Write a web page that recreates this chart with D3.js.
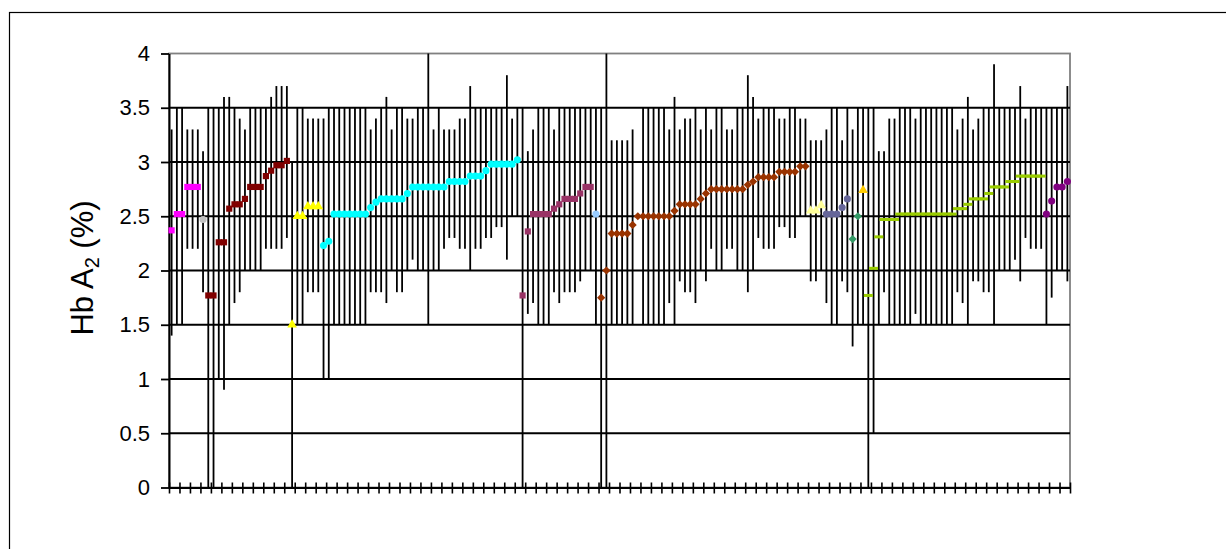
<!DOCTYPE html>
<html>
<head>
<meta charset="utf-8">
<script src="https://cdn.jsdelivr.net/npm/d3@7"></script>
<style>
  html, body { margin: 0; padding: 0; background: #fff; }
  svg { display: block; font-family: "Liberation Sans", Arial, sans-serif; }
</style>
</head>
<body>
<svg id="chart" width="1226" height="549"></svg>
<script>
// Hb A2 (%) per sample, one array per sample group (in plotting order).
const series01 = [2.37, 2.52, 2.52, 2.77, 2.77, 2.77];
const series02 = [2.47];
const series03 = [1.77, 1.77, 2.26, 2.26, 2.57, 2.61, 2.61, 2.66, 2.77, 2.77, 2.77, 2.87, 2.92, 2.97, 2.97, 3.01];
const series04 = [1.5, 2.5, 2.5, 2.59, 2.59, 2.59];
const series05 = [2.23, 2.27, 2.52, 2.52, 2.52, 2.52, 2.52, 2.52, 2.52, 2.58, 2.63,
                  2.66, 2.66, 2.66, 2.66, 2.66, 2.71, 2.77, 2.77, 2.77, 2.77, 2.77, 2.77, 2.77,
                  2.82, 2.82, 2.82, 2.82, 2.87, 2.87, 2.87, 2.92, 2.98, 2.98, 2.98, 2.98, 2.98, 3.02];
const series06 = [1.77, 2.36, 2.52, 2.52, 2.52, 2.52, 2.57, 2.61, 2.66, 2.66, 2.66, 2.71, 2.77, 2.77];
const series07 = [2.52];
const series08 = [1.75, 2.0, 2.34, 2.34, 2.34, 2.34, 2.42, 2.5, 2.5, 2.5, 2.5, 2.5, 2.5, 2.5,
                  2.55, 2.61, 2.61, 2.61, 2.61, 2.66, 2.71, 2.75, 2.75, 2.75, 2.75, 2.75, 2.75, 2.75,
                  2.79, 2.82, 2.86, 2.86, 2.86, 2.86, 2.91, 2.91, 2.91, 2.91, 2.96, 2.96];
const series09 = [2.55, 2.55, 2.6];
const series10 = [2.52, 2.52, 2.52, 2.58, 2.66];
const series11 = [2.29, 2.5];
const series12 = [2.74];
const series13 = [1.77, 2.02, 2.31, 2.47, 2.47, 2.47,
                  2.52, 2.52, 2.52, 2.52, 2.52, 2.52, 2.52, 2.52, 2.52, 2.52, 2.52,
                  2.57, 2.57, 2.61, 2.66, 2.66, 2.66, 2.71, 2.77, 2.77, 2.77, 2.82, 2.82,
                  2.87, 2.87, 2.87, 2.87, 2.87];
const series14 = [2.52, 2.64, 2.77, 2.77, 2.82];

// Reference range (upper / lower limit) attached to each sample, same order.
const rangeHigh = [
  3.3, 3.5, 3.5, 3.3, 3.3, 3.3, 3.1, 3.5, 3.5, 3.5,
  3.6, 3.6, 3.5, 3.4, 3.3, 3.5, 3.5, 3.5, 3.5, 3.6,
  3.7, 3.7, 3.7, 3.0, 3.5, 3.5, 3.4, 3.4, 3.4, 3.4,
  3.5, 3.5, 3.5, 3.5, 3.5, 3.5, 3.5, 3.5, 3.3, 3.4,
  3.5, 3.6, 3.3, 3.5, 3.5, 3.4, 3.4, 3.5, 3.5, 4.0,
  3.3, 3.5, 3.3, 3.3, 3.3, 3.4, 3.4, 3.7, 3.5, 3.5,
  3.5, 3.5, 3.5, 3.5, 3.8, 3.4, 3.5, 3.5, 3.1, 3.3,
  3.5, 3.5, 3.5, 3.3, 3.5, 3.5, 3.5, 3.5, 3.5, 3.5,
  3.5, 3.5, 3.5, 4.0, 3.2, 3.2, 3.2, 3.2, 3.3, null,
  3.5, 3.5, 3.5, 3.5, 3.5, 3.3, 3.6, 3.3, 3.4, 3.4,
  3.5, 3.3, 3.5, 3.3, 3.5, 3.5, 3.3, 3.3, 3.5, 3.5,
  3.8, 3.6, 3.4, 3.5, 3.5, 3.5, 3.4, 3.4, 3.5, 3.5,
  3.4, 3.4, 3.2, 3.2, 3.2, 3.3, 3.5, 3.5, 3.2, 3.5,
  3.3, 3.5, 3.5, 3.5, 3.5, 3.1, 3.1, 3.4, 3.4, 3.5,
  3.5, 3.5, 3.4, 3.5, 3.5, 3.5, 3.5, 3.5, 3.5, 3.5,
  3.3, 3.4, 3.6, 3.3, 3.4, 3.5, 3.5, 3.9, 3.5, 3.5,
  3.5, 3.5, 3.7, 3.4, 3.5, 3.5, 3.5, 3.5, 3.5, 3.5,
  3.5, 3.7
];
const rangeLow = [
  1.4, 1.5, 1.5, 2.2, 2.2, 2.2, 1.8, 0, 0, 1.0,
  0.9, 1.5, 1.7, 1.8, 2.0, 2.0, 2.0, 2.0, 2.2, 2.2,
  2.2, 2.2, 2.3, 0, 1.5, 1.5, 1.8, 1.8, 1.8, 1.0,
  1.0, 1.5, 1.5, 1.5, 1.5, 1.5, 1.5, 1.5, 1.8, 1.8,
  1.8, 1.7, 2.0, 1.8, 1.8, 2.0, 2.1, 2.0, 2.0, 1.5,
  2.0, 2.0, 2.2, 2.3, 2.3, 2.2, 2.2, 2.0, 2.2, 2.2,
  2.3, 2.3, 2.4, 2.4, 2.1, 2.5, 2.5, 0, 1.6, 1.7,
  1.5, 1.5, 1.5, 1.8, 1.7, 1.8, 1.8, 1.8, 1.9, 2.0,
  2.0, 1.5, 0, 0, 1.5, 1.5, 1.5, 1.5, 1.5, null,
  1.5, 1.5, 1.5, 1.5, 1.5, 1.7, 1.5, 1.9, 1.8, 1.8,
  1.7, 2.0, 1.9, 2.2, 2.0, 2.0, 2.2, 2.2, 2.0, 2.0,
  1.8, 2.0, 2.3, 2.2, 2.2, 2.2, 2.4, 2.4, 2.3, 2.3,
  2.5, 2.5, 1.9, 1.9, 2.0, 1.7, 1.5, 1.5, 1.9, 1.8,
  1.3, 1.5, 1.5, 0, 0.5, 1.5, 1.8, 1.5, 1.5, 1.5,
  1.5, 1.5, 1.6, 1.5, 1.5, 1.5, 1.5, 1.5, 1.5, 1.5,
  1.8, 1.7, 1.5, 1.9, 1.9, 1.8, 1.8, 1.5, 2.0, 2.0,
  2.0, 2.1, 1.9, 2.3, 2.2, 2.2, 2.2, 1.5, 1.75, 2.0,
  2.0, 1.9
];

// Value-axis tick labels.
const yTickValues = [0, 0.5, 1, 1.5, 2, 2.5, 3, 3.5, 4];

// Marker look for each group.
const markerStyle = {
  series01: { color: "#FF00FF", shape: "square" },
  series02: { color: "#C0C0C0", shape: "circle" },
  series03: { color: "#800000", shape: "square" },
  series04: { color: "#FFFF00", shape: "triangle" },
  series05: { color: "#00FFFF", shape: "circle" },
  series06: { color: "#993366", shape: "square" },
  series07: { color: "#99CCFF", shape: "circle" },
  series08: { color: "#993300", shape: "diamond" },
  series09: { color: "#FFFF99", shape: "triangle" },
  series10: { color: "#666699", shape: "circle" },
  series11: { color: "#339966", shape: "diamond" },
  series12: { color: "#FFCC00", shape: "triangle" },
  series13: { color: "#99CC00", shape: "dash" },
  series14: { color: "#800080", shape: "circle" }
};

const groups = [
  ["series01", series01], ["series02", series02], ["series03", series03], ["series04", series04],
  ["series05", series05], ["series06", series06], ["series07", series07], ["series08", series08],
  ["series09", series09], ["series10", series10], ["series11", series11], ["series12", series12],
  ["series13", series13], ["series14", series14]
];

// Flatten groups into one running sample index.
const points = [];
let pos = 0;
groups.forEach(([name, vals]) => {
  vals.forEach(v => { points.push({ i: pos, v: v, name: name }); pos += 1; });
});
const N = points.length;

const plot = { left: 169, right: 1070, top: 53.5, bottom: 487.5 };
const svg = d3.select("#chart");

// Outer chart frame
svg.append("rect")
  .attr("x", 9.5).attr("y", 12.5)
  .attr("width", 1400).attr("height", 700)
  .attr("fill", "none").attr("stroke", "#000").attr("stroke-width", 1.2);

const x = d3.scaleBand().domain(points.map(p => p.i)).range([plot.left, plot.right]).padding(0);
const xEdge = d3.scaleLinear().domain([0, N]).range([plot.left, plot.right]);
const y = d3.scaleLinear().domain([0, 4]).range([plot.bottom, plot.top]);
const cx = i => x(i) + x.bandwidth() / 2;

// Plot area border (grey)
svg.append("rect")
  .attr("x", plot.left).attr("y", y(4))
  .attr("width", plot.right - plot.left).attr("height", y(0) - y(4))
  .attr("fill", "none").attr("stroke", "#808080").attr("stroke-width", 1.8);

// Horizontal gridlines
svg.append("g").selectAll("line")
  .data(yTickValues.filter(v => v > 0 && v < 4))
  .join("line")
  .attr("x1", plot.left).attr("x2", plot.right)
  .attr("y1", d => y(d)).attr("y2", d => y(d))
  .attr("stroke", "#000").attr("stroke-width", 1.8);

// Range bars
svg.append("g").selectAll("line")
  .data(points.filter(p => rangeHigh[p.i] != null))
  .join("line")
  .attr("x1", p => cx(p.i)).attr("x2", p => cx(p.i))
  .attr("y1", p => y(rangeHigh[p.i])).attr("y2", p => y(rangeLow[p.i]))
  .attr("stroke", "#000").attr("stroke-width", 1.8);

// Y axis
const yAxis = svg.append("g")
  .attr("transform", `translate(${plot.left},0)`)
  .call(d3.axisLeft(y).tickValues(yTickValues).tickSize(8).tickSizeOuter(0)
        .tickPadding(11).tickFormat(d3.format("~g")));
yAxis.select(".domain").attr("stroke", "#000").attr("stroke-width", 2);
yAxis.selectAll(".tick line").attr("stroke", "#000").attr("stroke-width", 1.8);
yAxis.selectAll(".tick text")
  .attr("fill", "#000").attr("font-size", 22)
  .attr("font-family", "'Liberation Sans', Arial, sans-serif");

// X axis: cross tick marks every second sample, no labels
const xAxis = svg.append("g")
  .attr("transform", `translate(0,${plot.bottom})`)
  .call(d3.axisBottom(xEdge).tickValues(d3.range(0, N + 1, 2)).tickSize(6)
        .tickSizeOuter(0).tickFormat(""));
xAxis.select(".domain").attr("stroke", "#000").attr("stroke-width", 2);
xAxis.selectAll(".tick line")
  .attr("y1", -5).attr("y2", 6)
  .attr("stroke", "#000").attr("stroke-width", 1.6);

// Markers
const symbolFor = {
  square: d3.symbol().type(d3.symbolSquare).size(38),
  circle: d3.symbol().type(d3.symbolCircle).size(40),
  triangle: d3.symbol().type(d3.symbolTriangle).size(40),
  diamond: d3.symbol().type(d3.symbolSquare).size(34)
};
const mk = svg.append("g");
points.forEach(p => {
  const st = markerStyle[p.name];
  const px = cx(p.i), py = y(p.v);
  if (st.shape === "dash") {
    mk.append("rect")
      .attr("x", px - 4.5).attr("y", py - 1.5)
      .attr("width", 9).attr("height", 3)
      .attr("fill", st.color);
  } else {
    mk.append("path")
      .attr("d", symbolFor[st.shape]())
      .attr("transform", `translate(${px},${py})` + (st.shape === "diamond" ? " rotate(45)" : ""))
      .attr("fill", st.color);
  }
});

// Value axis title
const title = svg.append("text")
  .attr("transform", "translate(93,268) rotate(-90)")
  .attr("text-anchor", "middle")
  .attr("font-size", 31)
  .attr("fill", "#000");
title.append("tspan").text("Hb A");
title.append("tspan").attr("font-size", 20).attr("dy", 6).text("2");
title.append("tspan").attr("dy", -6).text(" (%)");
</script>
</body>
</html>
